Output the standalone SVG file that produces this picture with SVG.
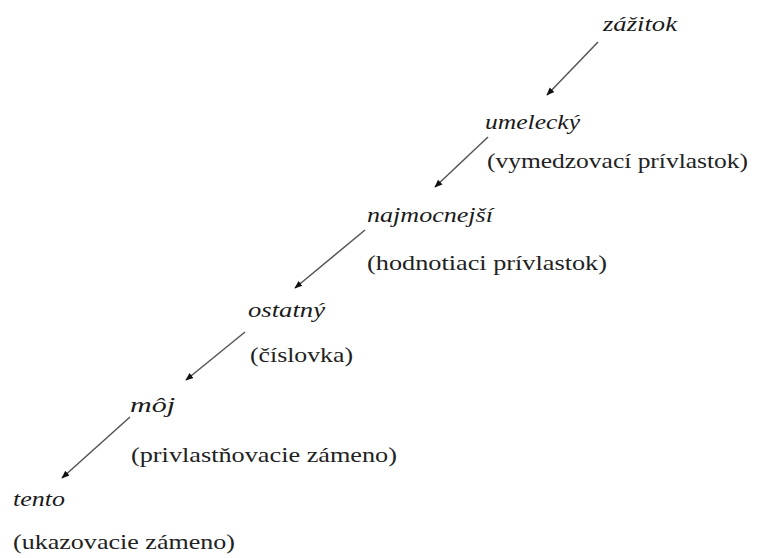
<svg xmlns="http://www.w3.org/2000/svg" width="757" height="558" viewBox="0 0 757 558">
<defs>
<style>
.w{font-style:italic;font-size:22px;fill:#1a1a1a}
.d{font-size:22px;fill:#222}
.c line{stroke:#555;stroke-width:1.5;marker-end:url(#ah)}
</style>
<marker id="ah" viewBox="0 0 10 10" refX="9" refY="5" markerWidth="8" markerHeight="8" markerUnits="userSpaceOnUse" orient="auto">
<path d="M0,1 L10,5 L0,9 z" fill="#111"/>
</marker>
</defs>
<rect width="757" height="558" fill="#fff"/>
<g id="connectors" class="c">
<line x1="598" y1="42" x2="547" y2="95"/>
<line x1="488" y1="137" x2="435" y2="187"/>
<line x1="365" y1="230" x2="295" y2="288"/>
<line x1="245" y1="332" x2="186" y2="380"/>
<line x1="130" y1="417" x2="62" y2="478"/>
</g>
<g font-family="'Liberation Serif', Tinos, 'Nimbus Roman', 'Times New Roman', Times, FreeSerif, serif">
<g id="n-zazitok"><text class="w" x="603" y="31" textLength="74" lengthAdjust="spacingAndGlyphs">zážitok</text></g>
<g id="n-umelecky"><text class="w" x="485" y="129" textLength="95" lengthAdjust="spacingAndGlyphs">umelecký</text>
<text class="d" x="487" y="168" textLength="261" lengthAdjust="spacingAndGlyphs">(vymedzovací prívlastok)</text></g>
<g id="n-najmocnejsi"><text class="w" x="367" y="222" textLength="126" lengthAdjust="spacingAndGlyphs">najmocnejší</text>
<text class="d" x="367" y="270" textLength="240" lengthAdjust="spacingAndGlyphs">(hodnotiaci prívlastok)</text></g>
<g id="n-ostatny"><text class="w" x="248" y="317" textLength="77" lengthAdjust="spacingAndGlyphs">ostatný</text>
<text class="d" x="250" y="362" textLength="103" lengthAdjust="spacingAndGlyphs">(číslovka)</text></g>
<g id="n-moj"><text class="w" x="130" y="412" textLength="45" lengthAdjust="spacingAndGlyphs">môj</text>
<text class="d" x="131" y="462" textLength="266" lengthAdjust="spacingAndGlyphs">(privlastňovacie zámeno)</text></g>
<g id="n-tento"><text class="w" x="13" y="506" textLength="52" lengthAdjust="spacingAndGlyphs">tento</text>
<text class="d" x="13" y="549" textLength="222" lengthAdjust="spacingAndGlyphs">(ukazovacie zámeno)</text></g>
</g>
</svg>
